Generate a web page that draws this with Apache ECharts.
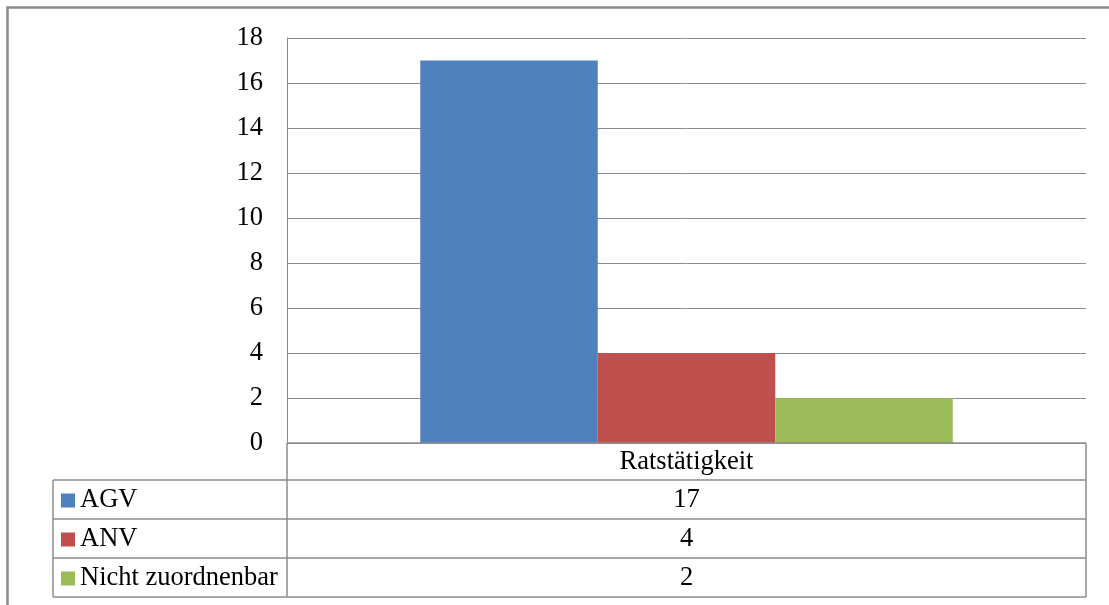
<!DOCTYPE html>
<html><head><meta charset="utf-8">
<script src="https://cdn.jsdelivr.net/npm/echarts@6/dist/echarts.min.js"></script>
<style>html,body{margin:0;padding:0;background:#fff}#c{width:1109px;height:605px}</style>
</head><body><div id="c"></div>
<script>
const categories = ['Ratstätigkeit'];
const seriesNames = ['AGV', 'ANV', 'Nicht zuordnenbar'];
const agvValues = [17];
const anvValues = [4];
const nichtValues = [2];
const colors = ['#4F81BD', '#C0504D', '#9BBB59'];

const FONT = 'Liberation Serif';
const FS = 26.5;
const L = 287, R = 1086, T = 38, B = 443;
const tableLeft = 53;
const rowY = [443, 480, 519, 558, 597];
const allValues = [agvValues, anvValues, nichtValues];

const chart = echarts.init(document.getElementById('c'), null, {renderer: 'canvas'});

const option = {
  animation: false,
  backgroundColor: '#fff',
  grid: {left: L, right: 1109 - R, top: T, bottom: 605 - B, containLabel: false},
  xAxis: {
    type: 'category', data: categories,
    axisLine: {show: false}, axisTick: {show: false}, axisLabel: {show: false}
  },
  yAxis: {
    type: 'value', min: 0, max: 18, interval: 2,
    axisLine: {show: true, lineStyle: {color: '#8c8c8c', width: 1}},
    axisTick: {show: false},
    axisLabel: {margin: 24, fontFamily: FONT, fontSize: FS, color: '#000'},
    splitLine: {show: true, lineStyle: {color: '#8c8c8c', width: 1}}
  },
  series: seriesNames.map((n, i) => ({
    name: n, type: 'bar', data: allValues[i], barWidth: 177.5, barGap: '0%',
    itemStyle: {color: colors[i]}
  }))
};
chart.setOption(option);

const cx = chart.convertToPixel({xAxisIndex: 0}, categories[0]);
const baseY = chart.convertToPixel({yAxisIndex: 0}, 0);
const g = [];
const lineStyle = {stroke: '#8c8c8c', lineWidth: 1.5};
const font = FS + 'px "' + FONT + '", serif';
g.push({type: 'rect', shape: {x: 7.5, y: 7.5, width: 1200, height: 700}, style: {fill: null, stroke: '#8a8a8a', lineWidth: 2.5}, z: 10});
g.push({type: 'line', shape: {x1: L, y1: baseY, x2: L, y2: rowY[4]}, style: lineStyle, z: 10});
g.push({type: 'line', shape: {x1: L, y1: baseY, x2: R, y2: baseY}, style: lineStyle, z: 10});
g.push({type: 'line', shape: {x1: R, y1: baseY, x2: R, y2: rowY[4]}, style: lineStyle, z: 10});
g.push({type: 'line', shape: {x1: tableLeft, y1: rowY[1], x2: tableLeft, y2: rowY[4]}, style: lineStyle, z: 10});
for (let r = 1; r < rowY.length; r++) {
  g.push({type: 'line', shape: {x1: tableLeft, y1: rowY[r], x2: R, y2: rowY[r]}, style: lineStyle, z: 10});
}
g.push({type: 'text', x: cx, y: (rowY[0] + rowY[1]) / 2 + 1, style: {text: categories[0], font: font, fill: '#000', align: 'center', verticalAlign: 'middle'}, z: 11});
seriesNames.forEach((n, i) => {
  const yc = (rowY[i + 1] + rowY[i + 2]) / 2 + 1;
  g.push({type: 'rect', shape: {x: 61, y: yc - 7, width: 14, height: 14}, style: {fill: colors[i]}, z: 11});
  g.push({type: 'text', x: 80, y: yc, style: {text: n, font: font, fill: '#000', align: 'left', verticalAlign: 'middle'}, z: 11});
  g.push({type: 'text', x: cx, y: yc, style: {text: String(allValues[i][0]), font: font, fill: '#000', align: 'center', verticalAlign: 'middle'}, z: 11});
});
chart.setOption({graphic: g});
</script>
</body></html>
